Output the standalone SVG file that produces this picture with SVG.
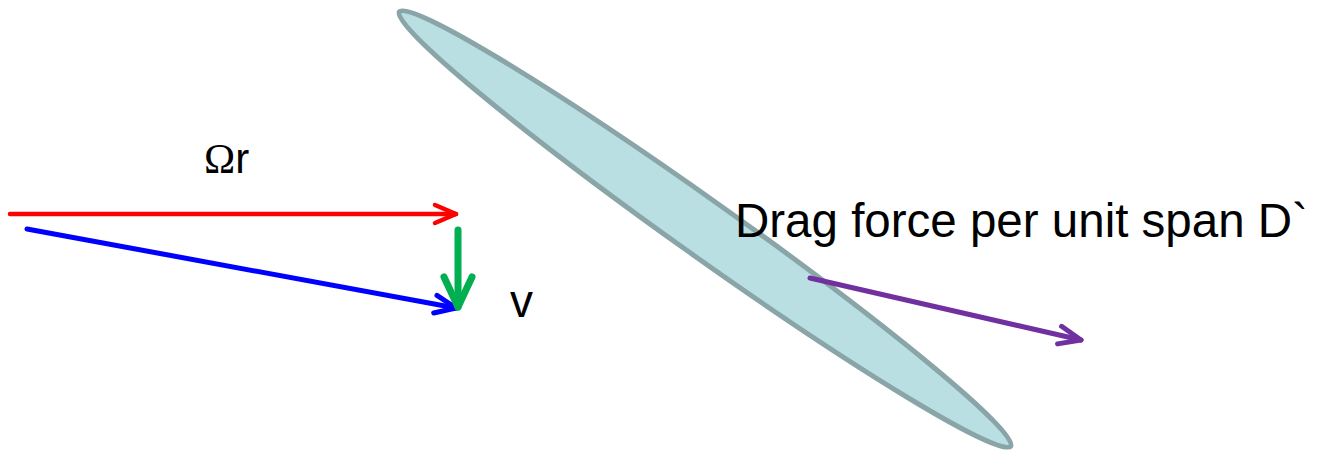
<svg xmlns="http://www.w3.org/2000/svg" width="1320" height="453" viewBox="0 0 1320 453">
  <style>
    .lbl { font-family: "Liberation Sans", Arial, sans-serif; fill: #000; }
    .arrow { fill: none; stroke-linecap: round; stroke-linejoin: round; }
    .head { fill: none; stroke-linecap: round; stroke-linejoin: round; }
  </style>
  <defs>
    <marker id="hRed" markerUnits="userSpaceOnUse" orient="auto" refX="0" refY="0" overflow="visible" markerWidth="1" markerHeight="1">
      <path class="head" d="M-21,-9 L0,0 L-21,9" stroke="#FF0000" stroke-width="4.5"/>
    </marker>
    <marker id="hBlue" markerUnits="userSpaceOnUse" orient="auto" refX="0" refY="0" overflow="visible" markerWidth="1" markerHeight="1">
      <path class="head" d="M-21,-9 L0,0 L-21,9" stroke="#0000FF" stroke-width="5"/>
    </marker>
    <marker id="hGreen" markerUnits="userSpaceOnUse" orient="auto" refX="0" refY="0" overflow="visible" markerWidth="1" markerHeight="1">
      <path class="head" d="M-30,-14 L0,0 L-30,14" stroke="#00B050" stroke-width="7"/>
    </marker>
    <marker id="hPurple" markerUnits="userSpaceOnUse" orient="auto" refX="0" refY="0" overflow="visible" markerWidth="1" markerHeight="1">
      <path class="head" d="M-22,-9 L0,0 L-22,9" stroke="#7030A0" stroke-width="5"/>
    </marker>
  </defs>

  <g id="blade">
    <ellipse cx="705" cy="229" rx="375" ry="28" transform="rotate(35.4 705 229)" fill="#B9DFE2" stroke="#89A5A8" stroke-width="5"/>
  </g>

  <g id="connectors">
    <line class="arrow" x1="10" y1="214" x2="456" y2="214" stroke="#FF0000" stroke-width="4.5" marker-end="url(#hRed)"/>
    <line class="arrow" x1="27" y1="229" x2="456" y2="308" stroke="#0000FF" stroke-width="5" marker-end="url(#hBlue)"/>
    <line class="arrow" x1="458" y1="230" x2="458" y2="307" stroke="#00B050" stroke-width="7" stroke-linecap="butt" marker-end="url(#hGreen)"/>
    <line class="arrow" x1="810" y1="278" x2="1081" y2="340" stroke="#7030A0" stroke-width="5" marker-end="url(#hPurple)"/>
  </g>

  <g id="label-omega-r">
    <text class="lbl" x="204" y="173" font-size="42"><tspan font-family="'Liberation Serif', 'Times New Roman', serif">Ω</tspan>r</text>
  </g>
  <g id="label-v">
    <text class="lbl" x="510" y="317" font-size="46">v</text>
  </g>
  <g id="label-drag">
    <text class="lbl" x="735" y="237" font-size="47.5">Drag force per unit span D`</text>
  </g>
</svg>
